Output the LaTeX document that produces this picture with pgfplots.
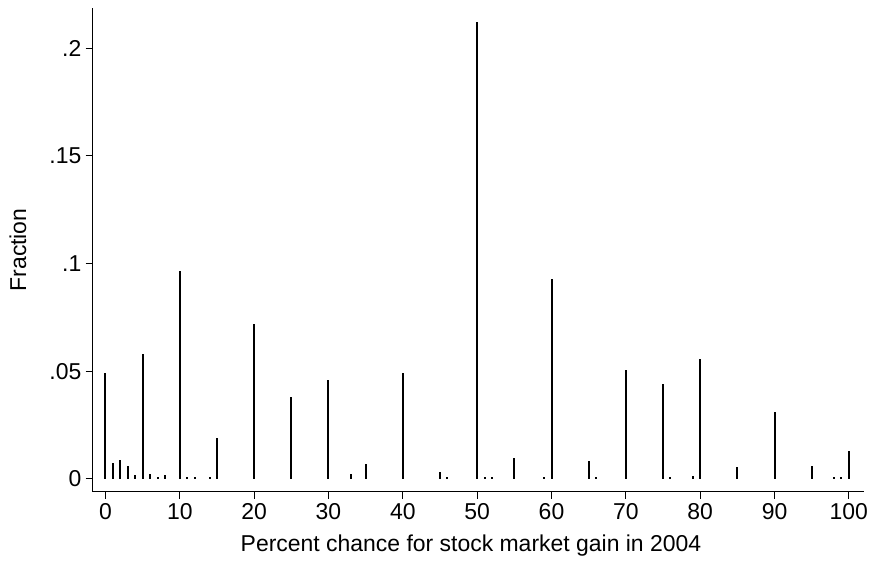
\documentclass[border=0pt]{standalone}
\usepackage{pgfplots}
\pgfplotsset{compat=1.18}
\usepackage{fontspec}
\setmainfont{Liberation Sans}
\pgfplotstableread{
x y
0 0.0494
1 0.0074
2 0.0089
3 0.0058
4 0.0020
5 0.0580
6 0.0025
7 0.0010
8 0.0020
10 0.0968
11 0.0008
12 0.0008
14 0.0008
15 0.0192
20 0.0720
25 0.0380
30 0.0460
33 0.0023
35 0.0069
40 0.0490
45 0.0030
46 0.0009
50 0.2124
51 0.0009
52 0.0009
55 0.0097
59 0.0009
60 0.0930
65 0.0081
66 0.0009
70 0.0507
75 0.0440
76 0.0009
79 0.0014
80 0.0558
85 0.0054
90 0.0310
95 0.0061
98 0.0009
99 0.0009
100 0.0128
}\spikes
\begin{document}
\fontsize{23}{28}\selectfont
\begin{tikzpicture}
\begin{axis}[name=ax, scale only axis, width=773.3pt, height=484.4pt,
  xmin=-1.745, xmax=102.05, ymin=-0.00589, ymax=0.2186,
  axis x line*=bottom, axis y line*=left,
  tick align=outside, major tick length=7pt,
  xtick={0,10,...,100}, ytick={0,0.05,0.1,0.15,0.2},
  yticklabels={0,.05,.1,.15,.2},
  minor tick num=0,
  tick style={black, line width=1pt},
  axis line style={line width=1pt},
  /pgf/number format/assume math mode=true,
  ticklabel style={font=\fontsize{23}{28}\selectfont},
  label style={font=\fontsize{23}{28}\selectfont},
  xticklabel style={inner sep=2pt, yshift=-3pt},
  yticklabel style={inner sep=2pt, xshift=-2pt},
  xlabel={Percent chance for stock market gain in 2004},
  ylabel={Fraction},
  xlabel style={at={(axis description cs:0.4905,-0.1245)}, anchor=base},
  ylabel style={at={(axis description cs:-0.0966,0.5)}, anchor=center},
  clip=false,
]
\addplot[ycomb, line width=2pt, black] table[x=x, y=y] {\spikes};
\path (rel axis cs:-0.11988,-0.13274) rectangle (rel axis cs:1.00517,1.01713);
\end{axis}
\end{tikzpicture}
\end{document}
